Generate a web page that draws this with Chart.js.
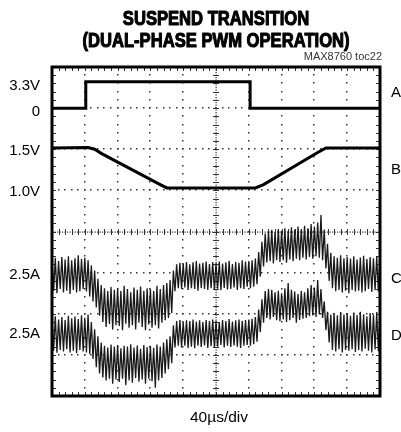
<!DOCTYPE html>
<html>
<head>
<meta charset="utf-8">
<script src="https://cdn.jsdelivr.net/npm/chart.js@4/dist/chart.umd.min.js"></script>
<style>
  html, body { margin: 0; padding: 0; background: #fff; }
  #scope { display: block; }
</style>
</head>
<body>
<canvas id="scope" width="401" height="432"></canvas>
<script>
// screen is 10 x 8 divisions, values below are in divisions
const xDivs = 10;
const yDivs = 8;
const sampleStep = 0.05; // divisions between ripple samples

const leftLabels = ["3.3V", "0", "1.5V", "1.0V", "2.5A", "2.5A"];
const leftLabelPos = [7.54, 6.91, 5.95, 4.97, 2.94, 1.51];
const rightLabels = ["A", "B", "C", "D"];
const rightLabelPos = [7.37, 5.50, 2.85, 1.46];

// A: SKIP / suspend logic signal
const aX = [0, 1.03, 1.03, 6.04, 6.04, 10];
const aY = [7.0, 7.0, 7.64, 7.64, 7.0, 7.0];

// B: output voltage
const bX = [0, 1.1, 1.3, 1.5, 3.3, 3.5, 6.2, 6.45, 8.1, 8.35, 10];
const bY = [6.03, 6.04, 6.0, 5.9, 5.14, 5.06, 5.06, 5.14, 5.92, 6.03, 6.03];

// C: inductor current phase 1
const cVals = [
  3.30,2.55,3.36,2.50,3.28,2.60,3.38,2.52,3.32,2.56,3.40,2.48,3.30,2.58,3.35,2.52,3.42,2.55,3.33,2.60,
  3.36,2.54,3.30,2.42,3.18,2.30,3.05,2.15,2.85,1.95,2.70,1.80,2.62,1.68,2.55,1.75,2.65,1.62,2.58,1.72,
  2.62,1.70,2.55,1.60,2.68,1.76,2.60,1.66,2.52,1.72,2.64,1.62,2.58,1.78,2.66,1.68,2.56,1.60,2.62,1.74,
  2.60,1.66,2.55,1.72,2.68,1.64,2.60,1.78,2.70,1.84,2.75,1.90,2.82,2.02,3.05,2.55,3.20,2.62,3.24,2.60,
  3.22,2.64,3.26,2.58,3.20,2.62,3.25,2.60,3.28,2.56,3.22,2.63,3.24,2.60,3.27,2.58,3.21,2.62,3.26,2.59,
  3.23,2.61,3.27,2.57,3.22,2.63,3.25,2.59,3.29,2.60,3.21,2.64,3.26,2.58,3.24,2.62,3.30,2.60,3.27,2.66,
  3.28,2.62,3.30,2.66,3.34,2.72,3.50,2.90,3.75,3.15,3.95,3.25,4.00,3.28,4.04,3.22,3.98,3.30,4.06,3.26,
  4.02,3.30,4.08,3.24,4.00,3.32,4.10,3.28,4.05,3.34,4.12,3.30,4.06,3.36,4.14,3.32,4.08,3.38,4.18,3.34,
  4.12,3.40,4.22,3.36,4.40,3.30,4.05,3.10,3.70,2.80,3.48,2.62,3.40,2.55,3.36,2.58,3.42,2.52,3.35,2.56,
  3.38,2.50,3.34,2.58,3.40,2.54,3.32,2.56,3.37,2.52,3.41,2.55,3.33,2.60,3.38,2.53,3.35,2.57,3.40,2.54,3.36
];

// D: inductor current phase 2
const dVals = [
  1.88,1.10,1.94,1.05,1.86,1.12,1.92,1.08,1.85,1.14,1.95,1.06,1.89,1.10,1.93,1.04,1.87,1.12,1.96,1.08,
  1.90,1.06,1.98,1.02,1.80,0.90,1.62,0.70,1.45,0.55,1.30,0.45,1.22,0.38,1.18,0.42,1.25,0.30,1.20,0.40,
  1.24,0.34,1.16,0.42,1.22,0.26,1.20,0.38,1.26,0.32,1.18,0.44,1.23,0.35,1.15,0.40,1.24,0.30,1.19,0.42,
  1.22,0.36,1.17,0.20,1.25,0.38,1.20,0.44,1.30,0.55,1.38,0.65,1.45,0.80,1.72,1.18,1.82,1.22,1.85,1.18,
  1.80,1.22,1.84,1.17,1.82,1.20,1.86,1.16,1.81,1.22,1.84,1.19,1.80,1.23,1.85,1.17,1.82,1.21,1.86,1.18,
  1.83,1.20,1.80,1.24,1.85,1.18,1.82,1.22,1.87,1.19,1.81,1.23,1.84,1.20,1.86,1.17,1.83,1.22,1.85,1.24,
  1.86,1.22,1.88,1.26,1.92,1.32,2.10,1.55,2.35,1.78,2.55,1.90,2.60,1.86,2.58,1.92,2.52,1.84,2.56,1.82,
  2.50,1.86,2.62,1.80,2.75,1.84,2.58,1.90,2.54,1.78,2.48,1.85,2.56,1.88,2.52,1.90,2.62,1.94,2.70,1.96,
  2.64,1.92,2.82,1.98,2.60,1.90,2.30,1.60,2.05,1.30,1.98,1.12,2.02,1.08,1.96,1.14,2.04,1.06,1.98,1.12,
  2.01,1.10,1.95,1.14,2.03,1.07,1.97,1.12,2.05,1.08,1.99,1.15,1.94,1.10,2.02,1.06,1.98,1.13,2.04,1.09,2.00
];

const regular = "'Liberation Sans', Arial, sans-serif";

const pairs = (xs, ys) => xs.map((x, i) => ({ x: x, y: ys[i] }));
const sampled = (vals) => vals.map((v, i) => ({ x: i * sampleStep, y: v }));

// dotted graticule, center cross with minor ticks, frame, header text
const scopeGrid = {
  id: "scopeGrid",
  beforeDatasetsDraw(chart) {
    const { ctx, chartArea: a, scales: { x, y } } = chart;
    ctx.save();
    ctx.fillStyle = "#333";
    for (let i = 1; i < xDivs; i++) {
      if (i === xDivs / 2) continue;
      const px = Math.round(x.getPixelForValue(i));
      for (let k = 1; k < yDivs * 5; k++) {
        const py = Math.round(y.getPixelForValue(k / 5));
        ctx.fillRect(px - 1, py - 1, 1.5, 1.5);
      }
    }
    for (let j = 1; j < yDivs; j++) {
      if (j === yDivs / 2) continue;
      const py = Math.round(y.getPixelForValue(j));
      for (let k = 1; k < xDivs * 5; k++) {
        const px = Math.round(x.getPixelForValue(k / 5));
        ctx.fillRect(px - 1, py - 1, 1.5, 1.5);
      }
    }
    // center lines
    const cx = Math.round(x.getPixelForValue(xDivs / 2));
    const cy = Math.round(y.getPixelForValue(yDivs / 2));
    for (let py = a.top; py < a.bottom; py += 2.5) ctx.fillRect(cx - 0.5, py, 1.2, 1.2);
    for (let px = a.left; px < a.right; px += 2.5) ctx.fillRect(px, cy - 0.5, 1.2, 1.2);
    ctx.strokeStyle = "#333";
    ctx.lineWidth = 1;
    ctx.beginPath();
    for (let k = 1; k < yDivs * 5; k++) {
      const py = Math.round(y.getPixelForValue(k / 5)) + 0.5;
      ctx.moveTo(cx - 3, py); ctx.lineTo(cx + 3, py);
      ctx.moveTo(a.left, py); ctx.lineTo(a.left + 4, py);
      ctx.moveTo(a.right - 4, py); ctx.lineTo(a.right, py);
    }
    for (let k = 1; k < xDivs * 5; k++) {
      const px = Math.round(x.getPixelForValue(k / 5)) + 0.5;
      ctx.moveTo(px, cy - 3); ctx.lineTo(px, cy + 3);
      ctx.moveTo(px, a.top); ctx.lineTo(px, a.top + 4);
      ctx.moveTo(px, a.bottom - 4); ctx.lineTo(px, a.bottom);
    }
    ctx.stroke();
    ctx.restore();
  },
  afterDraw(chart) {
    const { ctx, chartArea: a } = chart;
    ctx.save();
    ctx.strokeStyle = "#000";
    ctx.lineWidth = 3;
    ctx.strokeRect(a.left, a.top, a.right - a.left, a.bottom - a.top);
    const mid = (a.left + a.right) / 2;
    ctx.fillStyle = "#000";
    ctx.textAlign = "center";
    ctx.textBaseline = "middle";
    // condensed heavy title: squeeze a bold face horizontally, thicken with a stroke
    ctx.save();
    ctx.translate(mid, 0);
    ctx.scale(0.83, 1);
    ctx.font = "bold 20px " + regular;
    ctx.lineWidth = 1.1;
    ctx.lineJoin = "round";
    for (const [txt, ty] of [["SUSPEND TRANSITION", 19], ["(DUAL-PHASE PWM OPERATION)", 41]]) {
      ctx.fillText(txt, 0, ty);
      ctx.strokeText(txt, 0, ty);
    }
    ctx.restore();
    ctx.font = "11px " + regular;
    ctx.fillStyle = "#333";
    ctx.textAlign = "right";
    ctx.fillText("MAX8760 toc22", a.right + 2, 57);
    ctx.fillStyle = "#000";
    ctx.textAlign = "center";
    ctx.font = "15.5px " + regular;
    ctx.fillText("40\u00b5s/div", mid + 3, 418);
    ctx.restore();
  }
};

const ctx = document.getElementById("scope").getContext("2d");
const chart = new Chart(ctx, {
  type: "line",
  data: {
    datasets: [
      { label: "A", data: pairs(aX, aY), borderColor: "#000", borderWidth: 3 },
      { label: "B", data: pairs(bX, bY), borderColor: "#000", borderWidth: 3 },
      { label: "C", data: sampled(cVals), borderColor: "#1a1a1a", borderWidth: 1.3 },
      { label: "D", data: sampled(dVals), borderColor: "#1a1a1a", borderWidth: 1.3 }
    ]
  },
  options: {
    responsive: false,
    animation: false,
    events: [],
    elements: { point: { radius: 0 }, line: { tension: 0 } },
    layout: { padding: { top: 67, left: 0, right: 0, bottom: 0 } },
    plugins: { legend: { display: false }, tooltip: { enabled: false }, title: { display: false } },
    scales: {
      x: {
        type: "linear", min: 0, max: xDivs,
        ticks: { display: false },
        grid: { display: false, drawTicks: false },
        border: { display: false },
        afterFit(s) { s.height = 36; }
      },
      y: {
        type: "linear", position: "left", min: 0, max: yDivs,
        afterBuildTicks(s) { s.ticks = leftLabelPos.map(v => ({ value: v })); },
        ticks: {
          autoSkip: false, padding: 12, color: "#000",
          font: { family: regular, size: 15 },
          callback: (v, i) => leftLabels[i]
        },
        grid: { display: false, drawTicks: false },
        border: { display: false },
        afterFit(s) { s.width = 52; }
      },
      yr: {
        type: "linear", position: "right", min: 0, max: yDivs,
        afterBuildTicks(s) { s.ticks = rightLabelPos.map(v => ({ value: v })); },
        ticks: {
          autoSkip: false, padding: 11, color: "#000",
          font: { family: regular, size: 15 },
          callback: (v, i) => rightLabels[i]
        },
        grid: { display: false, drawTicks: false },
        border: { display: false },
        afterFit(s) { s.width = 21; }
      }
    }
  },
  plugins: [scopeGrid]
});
</script>
</body>
</html>
